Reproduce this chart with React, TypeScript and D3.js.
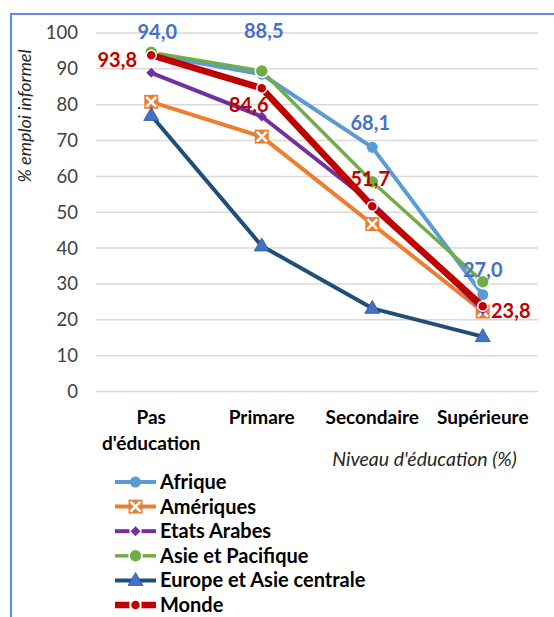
import React from "react";
import * as d3 from "d3";

const categories: string[][] = [["Pas", "d'éducation"], ["Primare"], ["Secondaire"], ["Supérieure"]];
const seriesNames = ["Afrique", "Amériques", "Etats Arabes", "Asie et Pacifique", "Europe et Asie centrale", "Monde"];
const afrique = [94.0, 88.5, 68.1, 27.0];
const ameriques = [80.8, 71.1, 46.7, 22.3];
const etatsArabes = [88.9, 76.7, 52.5, 22.8];
const asiePacifique = [94.6, 89.4, 58.5, 30.6];
const europeAsieCentrale = [77.0, 40.6, 23.2, 15.3];
const monde = [93.8, 84.6, 51.7, 23.8];
const yTicks = [0, 10, 20, 30, 40, 50, 60, 70, 80, 90, 100];
const yTitle = "% emploi informel";
const xTitle = "Niveau d'éducation (%)";

const W = 554;
const H = 617;
const FONT = "Lato, 'Open Sans', sans-serif";

type Marker = "circle" | "xsquare" | "diamond" | "bigcircle" | "triangle" | "redcircle";

const styles: { color: string; width: number; marker: Marker; mfill: string; gap: boolean }[] = [
  { color: "#5B9BD5", width: 4, marker: "circle", mfill: "#5B9BD5", gap: false },
  { color: "#ED7D31", width: 4, marker: "xsquare", mfill: "#ED7D31", gap: false },
  { color: "#7030A0", width: 4, marker: "diamond", mfill: "#7030A0", gap: true },
  { color: "#70AD47", width: 3.5, marker: "bigcircle", mfill: "#70AD47", gap: true },
  { color: "#1F4E79", width: 4, marker: "triangle", mfill: "#4472C4", gap: false },
  { color: "#C00000", width: 6.5, marker: "redcircle", mfill: "#C00000", gap: true },
];

// label offsets (layout), relative to the data point
const afriqueLabelOffsets = [[6, -16], [2, -36], [-2, -17], [0, -18]];
const mondeLabelOffsets = [[-34, 12], [-13, 24], [-2, -20], [28, 12]];

function MarkerShape({ kind, x, y, fill }: { kind: Marker; x: number; y: number; fill: string }) {
  switch (kind) {
    case "circle":
      return <circle cx={x} cy={y} r={5.5} fill={fill} />;
    case "bigcircle":
      return <circle cx={x} cy={y} r={6.5} fill={fill} stroke="#fff" strokeWidth={1.5} />;
    case "redcircle":
      return <circle cx={x} cy={y} r={5} fill={fill} stroke="#fff" strokeWidth={1.5} />;
    case "diamond":
      return <path d={`M${x},${y - 5}L${x + 5},${y}L${x},${y + 5}L${x - 5},${y}Z`} fill={fill} />;
    case "xsquare": {
      const s = 7;
      return (
        <g>
          <rect x={x - s} y={y - s} width={2 * s} height={2 * s} fill={fill} />
          <path d={`M${x - s + 2},${y - s + 2}L${x + s - 2},${y + s - 2}M${x + s - 2},${y - s + 2}L${x - s + 2},${y + s - 2}`} stroke="#fff" strokeWidth={2.5} />
        </g>
      );
    }
    case "triangle":
      return <path d={`M${x},${y - 8}L${x + 7.5},${y + 5}L${x - 7.5},${y + 5}Z`} fill={fill} stroke="#2F5597" strokeWidth={0.8} />;
  }
  return null;
}

export default function App() {
  const allSeries = [afrique, ameriques, etatsArabes, asiePacifique, europeAsieCentrale, monde];
  const x = d3.scaleBand<number>().domain(d3.range(categories.length)).range([96, 538]);
  const xc = (i: number) => (x(i) as number) + x.bandwidth() / 2;
  const y = d3.scaleLinear().domain([0, 100]).range([391.5, 33]);
  const line = d3.line<number>().x((_, i) => xc(i)).y((d) => y(d));
  const fmt = (v: number) => v.toFixed(1).replace(".", ",");

  const legendX0 = 115;
  const legendX1 = 156;
  const legendY = d3.scaleLinear().domain([0, 1]).range([482, 506.6]);

  return (
    <svg width={W} height={H} style={{ position: "absolute", left: 0, top: 0, background: "#fff" }} fontFamily={FONT}>
      <rect x={0} y={0} width={W} height={H} fill="#fff" />
      <rect x={11} y={14} width={W + 20} height={H + 20} fill="none" stroke="#5B8FD9" strokeWidth={2} />
      {yTicks.map((t) => (
        <g key={t}>
          <line x1={96} x2={538} y1={y(t)} y2={y(t)} stroke="#D9D9D9" strokeWidth={1.5} />
          <text x={78} y={y(t)} dy="0.35em" textAnchor="end" fontSize={18.5} fill="#404040">
            {t}
          </text>
        </g>
      ))}
      <text transform={`translate(31,116) rotate(-90)`} textAnchor="middle" fontSize={18} fontStyle="italic" fill="#262626">
        {yTitle}
      </text>
      {categories.map((c, i) => (
        <text key={i} x={xc(i)} y={424} textAnchor="middle" fontSize={19} fontWeight="bold" fill="#000">
          {c.map((s, j) => (
            <tspan key={j} x={xc(i)} dy={j === 0 ? 0 : 26}>
              {s}
            </tspan>
          ))}
        </text>
      ))}
      <text x={424.5} y={466} textAnchor="middle" fontSize={19.5} fontStyle="italic" fill="#262626">
        {xTitle}
      </text>
      {allSeries.map((s, k) => (
        <g key={k}>
          <path d={line(s) || ""} fill="none" stroke={styles[k].color} strokeWidth={styles[k].width} strokeLinejoin="round" />
          {s.map((v, i) => (
            <MarkerShape key={i} kind={styles[k].marker} x={xc(i)} y={y(v)} fill={styles[k].mfill} />
          ))}
        </g>
      ))}
      {afrique.map((v, i) => (
        <text key={"a" + i} x={xc(i) + afriqueLabelOffsets[i][0]} y={y(v) + afriqueLabelOffsets[i][1]} textAnchor="middle" fontSize={20} fontWeight="bold" fill="#4472C4">
          {fmt(v)}
        </text>
      ))}
      {monde.map((v, i) => (
        <text key={"m" + i} x={xc(i) + mondeLabelOffsets[i][0]} y={y(v) + mondeLabelOffsets[i][1]} textAnchor="middle" fontSize={20} fontWeight="bold" fill="#C00000">
          {fmt(v)}
        </text>
      ))}
      {seriesNames.map((n, k) => {
        const cy = legendY(k);
        const mid = (legendX0 + legendX1) / 2;
        const st = styles[k];
        return (
          <g key={n}>
            {st.gap ? (
              <>
                <line x1={legendX0} x2={mid - 6} y1={cy} y2={cy} stroke={st.color} strokeWidth={st.width} />
                <line x1={mid + 6} x2={legendX1} y1={cy} y2={cy} stroke={st.color} strokeWidth={st.width} />
              </>
            ) : (
              <line x1={legendX0} x2={legendX1} y1={cy} y2={cy} stroke={st.color} strokeWidth={st.width} />
            )}
            <MarkerShape kind={st.marker} x={mid} y={cy} fill={st.mfill} />
            <text x={160} y={cy + 7} fontSize={20} fontWeight="bold" fill="#000">
              {n}
            </text>
          </g>
        );
      })}
    </svg>
  );
}
